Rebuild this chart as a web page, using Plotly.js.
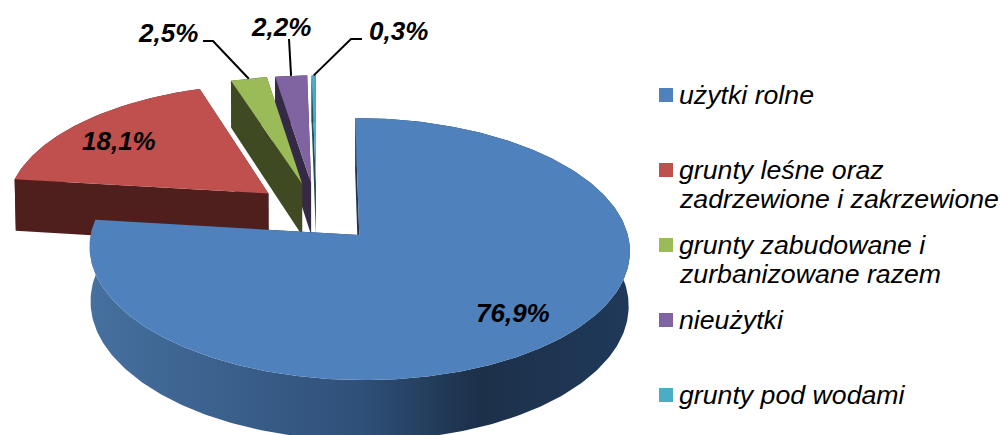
<!DOCTYPE html>
<html><head><meta charset="utf-8">
<script src="https://cdn.plot.ly/plotly-3.0.1.min.js"></script>
<style>html,body{margin:0;padding:0;background:#fff}#c{width:1000px;height:435px}</style>
</head><body><div id="c"></div>
<script>
const categories = [["użytki rolne"],["grunty leśne oraz","zadrzewione i zakrzewione"],["grunty zabudowane i","zurbanizowane razem"],["nieużytki"],["grunty pod wodami"]];
const values = [76.9,18.1,2.5,2.2,0.3];
const topColors = ["#4f81bd","#c0504d","#9bbb59","#8064a2","#4bacc6"];
const wallColors = ["#1f3550","#4f1f1e","#404a22","#352a45","#1d4f5c"];
const legendY = [95,170,245,320,395];
const labelPos = [[513,313],[119,141],[168,33],[281,27],[398,31]];
const leaderElbows = [null,null,[[213,41],[203,41]],[[289,39]],[[351,39],[362,39]]];

// 3-D pie view
const view = {cx:316.5, cy:212.2, rx:263.5, ry:124.7, persp:0.105, depth:53, shrink:0.996, explode:0.24};
function project(a,b,lower){
  const den = 1 + view.persp*b;
  let x = view.cx + view.rx*a/den, y = view.cy - view.ry*b/den;
  if(lower){ x = view.cx + (x-view.cx)*view.shrink; y += view.depth/den; }
  return [x,y];
}
const total = values.reduce((s,v)=>s+v,0);
let acc = 0;
const slices = values.map((v,i)=>{
  const start = acc/total*2*Math.PI; acc += v; const end = acc/total*2*Math.PI;
  const mid = (start+end)/2;
  return {i,start,end,mid,ox:view.explode*Math.sin(mid),oy:view.explode*Math.cos(mid)};
});
function arc(s,lower){
  const n = Math.max(2,Math.ceil((s.end-s.start)/(Math.PI/180)));
  const pts = [];
  for(let k=0;k<=n;k++){
    const t = s.start+(s.end-s.start)*k/n;
    pts.push(project(s.ox+Math.sin(t),s.oy+Math.cos(t),lower));
  }
  return pts;
}
function poly(pts,color,extra){
  const closed = pts.concat([pts[0]]);
  return Object.assign({type:'scatter',mode:'lines',x:closed.map(p=>p[0]),y:closed.map(p=>p[1]),
    fill:'toself',fillcolor:color,line:{width:0,color:color},hoverinfo:'skip',showlegend:false},extra||{});
}
const traces = [];
// painter's order: far slices first, the big front slice last
[4,3,2,1,0].forEach(i=>{
  const s = slices[i], c = wallColors[i];
  const tipT = project(s.ox,s.oy,false), tipB = project(s.ox,s.oy,true);
  const top = arc(s,false), bot = arc(s,true);
  traces.push(poly([tipT,top[0],bot[0],tipB],c));
  traces.push(poly([tipT,top[top.length-1],bot[bot.length-1],tipB],c));
  const extra = i===0 ? {fillgradient:{type:'horizontal',colorscale:[[0,'#46709f'],[0.5,'#2f5079'],[0.72,'#1c3049'],[1,'#20395a']]}} : {};
  traces.push(poly(top.concat(bot.slice().reverse()),c,extra));
  traces.push(poly([tipT].concat(top),topColors[i]));
});
// leader lines from the outer arc to the labels
leaderElbows.forEach((el,i)=>{
  if(!el) return;
  const s = slices[i];
  const start = project(s.ox+Math.sin(s.mid),s.oy+Math.cos(s.mid),false);
  const pts = [start].concat(el);
  traces.push({type:'scatter',mode:'lines',x:pts.map(p=>p[0]),y:pts.map(p=>p[1]),
    line:{color:'#000',width:2},hoverinfo:'skip',showlegend:false});
});
// legend swatches
traces.push({type:'scatter',mode:'markers',x:legendY.map(()=>666),y:legendY,
  marker:{symbol:'square',size:14,color:topColors,line:{width:0}},hoverinfo:'skip',showlegend:false});

const annotations = [];
values.forEach((v,i)=>annotations.push({x:labelPos[i][0],y:labelPos[i][1],xref:'x',yref:'y',showarrow:false,
  text:'<b><i>'+v.toFixed(1).replace('.',',')+'%</i></b>',
  font:{family:'Liberation Sans',size:26,color:'#000'},xanchor:'center',yanchor:'middle'}));
categories.forEach((lines,i)=>lines.forEach((t,j)=>annotations.push({x:679,y:legendY[i]+j*29,xref:'x',yref:'y',showarrow:false,
  text:'<i>'+t+'</i>',font:{family:'Liberation Sans',size:26.7,color:'#000'},xanchor:'left',yanchor:'middle',xshift:-2})));

Plotly.newPlot('c',traces,{
  width:1000,height:435,margin:{l:0,r:0,t:0,b:0},paper_bgcolor:'#fff',plot_bgcolor:'#fff',showlegend:false,
  xaxis:{range:[0,1000],visible:false,fixedrange:true},
  yaxis:{range:[435,0],visible:false,fixedrange:true},
  annotations
},{displayModeBar:false,staticPlot:true});
</script></body></html>
